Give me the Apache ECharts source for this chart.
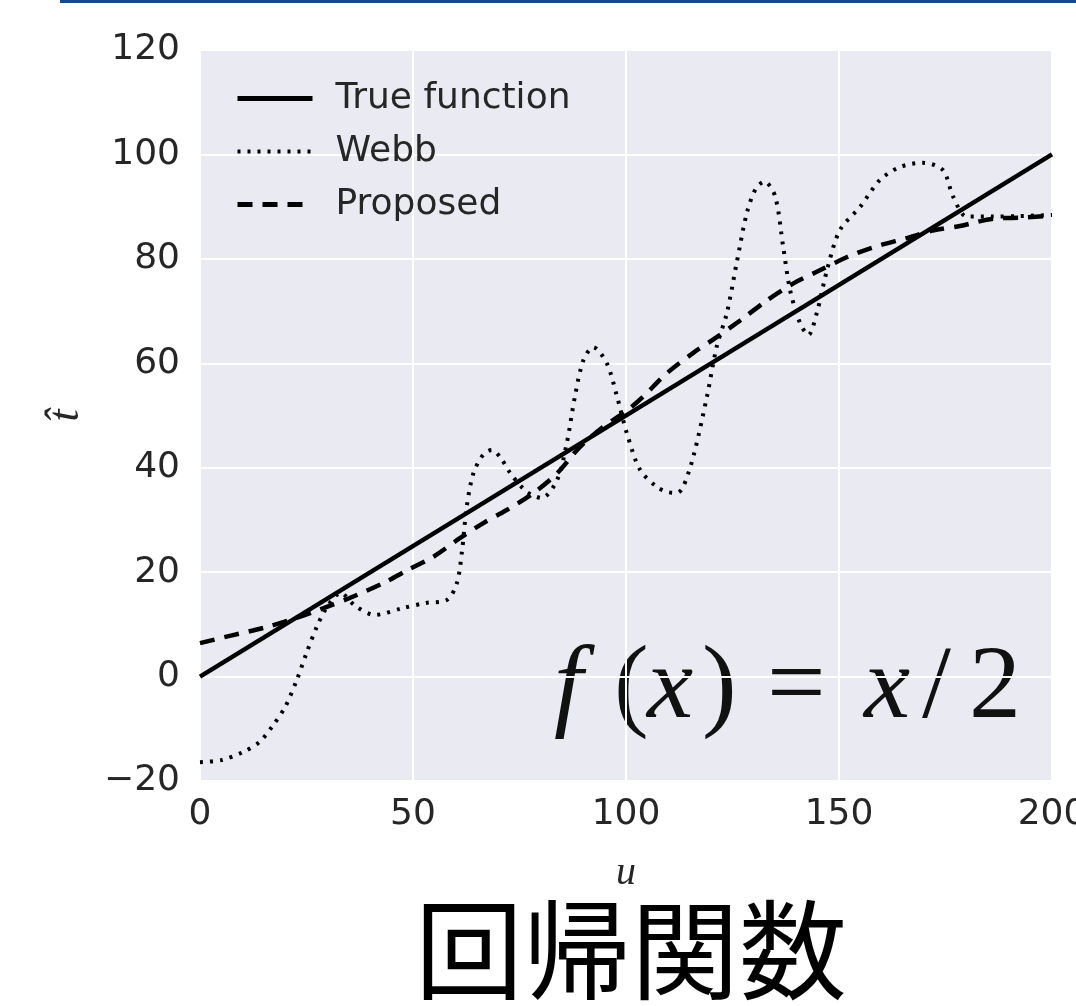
<!DOCTYPE html>
<html>
<head>
<meta charset="utf-8">
<script src="https://cdn.jsdelivr.net/npm/echarts@6/dist/echarts.min.js"></script>
<style>
  html, body { margin: 0; padding: 0; background: #fff; }
  #chart { width: 1076px; height: 1006px; }
</style>
</head>
<body>
<div id="chart"></div>
<script>
// true function f(x) = x/2
const trueU = [0, 200]
const trueT = [0, 100]

// Webb estimate
const webbU = [0, 5, 10, 14, 17, 20, 22.7, 25, 27.4, 29.8, 33, 36.5, 41, 47.5, 53, 58, 60.3, 61.5, 62.6, 64.2, 66.5, 68.5, 70.5, 72.8, 76.7, 80.2, 83.8, 86.1, 88, 90, 92.3, 95.5, 97.9, 100.2, 103.3, 107.3, 110, 112, 113.4, 115.8, 119, 121.3, 123.7, 126, 128.4, 130.5, 132.5, 135, 136.9, 138.5, 140.8, 142.8, 144.8, 147.2, 150.2, 155, 159.6, 164.3, 169.7, 174.4, 176.8, 180, 186, 192.5, 200]
const webbT = [-16.4, -16, -14.5, -12.5, -9.5, -5.8, -0.7, 4.5, 9.5, 13.3, 16, 13.5, 11.8, 13.1, 14.1, 14.7, 17.9, 24, 32.5, 39, 42.5, 43.4, 42, 39, 35.4, 34.2, 37.6, 44.7, 53.6, 60.6, 63.1, 60, 53.6, 46.6, 39.6, 36.3, 35.3, 35.2, 36.3, 42.1, 53.6, 63.2, 69.7, 79.3, 88.9, 93.5, 94.8, 92, 82.3, 74.1, 67.8, 65.4, 69.7, 77.9, 85.5, 90, 95.1, 97.6, 98.4, 97, 91.9, 88.1, 88.1, 88.2, 88.4]

// proposed estimate
const propU = [0, 7, 14.8, 21.8, 29, 35, 43, 49, 54.7, 61, 66.5, 72, 78.2, 83.8, 89.2, 94.6, 100, 104, 109.6, 115.8, 121.3, 126.8, 133, 139.3, 145.5, 151.8, 158, 166, 172, 178.4, 186.2, 193.2, 200]
const propT = [6.4, 7.8, 9.3, 11, 13.1, 15, 17.9, 20.5, 22.9, 26.5, 29.4, 31.9, 35.1, 38.9, 44, 47.8, 50.8, 53.6, 58.1, 62, 65, 68.2, 72, 75.3, 77.8, 80.3, 82.2, 84, 85.4, 86.3, 87.7, 87.9, 88.3]

const seriesNames = ['True function', 'Webb', 'Proposed']
const title = '回帰関数'

const zip = (xs, ys) => xs.map((x, i) => [x, ys[i]])
const textColor = '#262626'
const tickFont = 'DejaVu Sans'
const mathFont = 'Liberation Serif'

const solidStyle = { color: '#000', width: 4.5, type: 'solid' }
const dotStyle = { color: '#000', width: 4, type: [3, 7], cap: 'butt' }
const dashStyle = { color: '#000', width: 4.5, type: [15, 10], cap: 'butt' }

const chart = echarts.init(document.getElementById('chart'), null, { renderer: 'canvas' })

const option = {
  backgroundColor: '#ffffff',
  animation: false,
  grid: {
    left: 200,
    top: 50,
    width: 852,
    height: 731,
    containLabel: false,
    outerBoundsMode: 'none',
    show: true,
    backgroundColor: '#EAEAF2',
    borderWidth: 0
  },
  legend: {
    orient: 'vertical',
    left: 230,
    top: 73,
    itemWidth: 75,
    itemHeight: 14,
    itemGap: 12,
    data: [
      { name: seriesNames[0], lineStyle: { width: 5 } },
      { name: seriesNames[1], lineStyle: { width: 4 } },
      { name: seriesNames[2], lineStyle: { width: 5 } }
    ],
    itemStyle: { opacity: 0 },
    textStyle: {
      fontFamily: tickFont,
      fontSize: 36,
      color: textColor,
      lineHeight: 41,
      padding: [0, 0, 0, 18]
    }
  },
  xAxis: {
    type: 'value',
    min: 0,
    max: 200,
    interval: 50,
    name: 'u',
    nameLocation: 'middle',
    nameGap: 72,
    nameTextStyle: {
      fontFamily: mathFont,
      fontStyle: 'italic',
      fontSize: 40,
      color: textColor
    },
    axisLine: { show: false },
    axisTick: { show: false },
    axisLabel: {
      fontFamily: tickFont,
      fontSize: 36,
      color: textColor,
      margin: 16
    },
    splitLine: { lineStyle: { color: '#ffffff', width: 2 } }
  },
  yAxis: {
    type: 'value',
    min: -20,
    max: 120,
    interval: 20,
    name: 't\u0302',
    nameLocation: 'middle',
    nameGap: 112,
    nameRotate: 90,
    nameTextStyle: {
      fontFamily: mathFont,
      fontStyle: 'italic',
      fontSize: 44,
      color: textColor
    },
    axisLine: { show: false },
    axisTick: { show: false },
    axisLabel: {
      fontFamily: tickFont,
      fontSize: 36,
      color: textColor,
      margin: 20,
      formatter: v => String(v).replace('-', '\u2212')
    },
    splitLine: { lineStyle: { color: '#ffffff', width: 2 } }
  },
  series: [
    {
      name: seriesNames[0],
      type: 'line',
      data: zip(trueU, trueT),
      showSymbol: false,
      symbol: 'none',
      lineStyle: solidStyle,
      itemStyle: { color: '#000' }
    },
    {
      name: seriesNames[1],
      type: 'line',
      data: zip(webbU, webbT),
      showSymbol: false,
      symbol: 'none',
      smooth: 0.3,
      lineStyle: dotStyle,
      itemStyle: { color: '#000' }
    },
    {
      name: seriesNames[2],
      type: 'line',
      data: zip(propU, propT),
      showSymbol: false,
      symbol: 'none',
      smooth: 0.3,
      lineStyle: dashStyle,
      itemStyle: { color: '#000' }
    }
  ],
  graphic: [
    {
      // thin blue rule at the top of the slide
      type: 'rect',
      shape: { x: 60, y: 0, width: 1016, height: 3 },
      style: { fill: '#144b8a' },
      silent: true
    },
    {
      type: 'text',
      x: 554,
      y: 690,
      style: {
        text: '{i|f}{n|(}{ix|x}{p|)}{e|=}{iy|x}{s|/}{n|2}',
        verticalAlign: 'middle',
        fill: '#111',
        rich: {
          i: { fontFamily: mathFont, fontStyle: 'italic', fontSize: 104, width: 60, lineHeight: 110 },
          n: { fontFamily: mathFont, fontSize: 104, width: 33, lineHeight: 110 },
          ix: { fontFamily: mathFont, fontStyle: 'italic', fontSize: 104, width: 55, lineHeight: 110 },
          p: { fontFamily: mathFont, fontSize: 104, width: 65, lineHeight: 110 },
          e: { fontFamily: mathFont, fontSize: 104, width: 97, lineHeight: 110 },
          iy: { fontFamily: mathFont, fontStyle: 'italic', fontSize: 104, width: 58, lineHeight: 110 },
          s: { fontFamily: mathFont, fontSize: 104, width: 47, lineHeight: 110 }
        }
      }
    },
    {
      type: 'text',
      x: 631,
      y: 950,
      style: {
        text: title,
        fontFamily: 'Noto Sans CJK JP',
        fontSize: 108,
        fill: '#000',
        align: 'center',
        verticalAlign: 'middle'
      }
    }
  ]
}

chart.setOption(option)
</script>
</body>
</html>
